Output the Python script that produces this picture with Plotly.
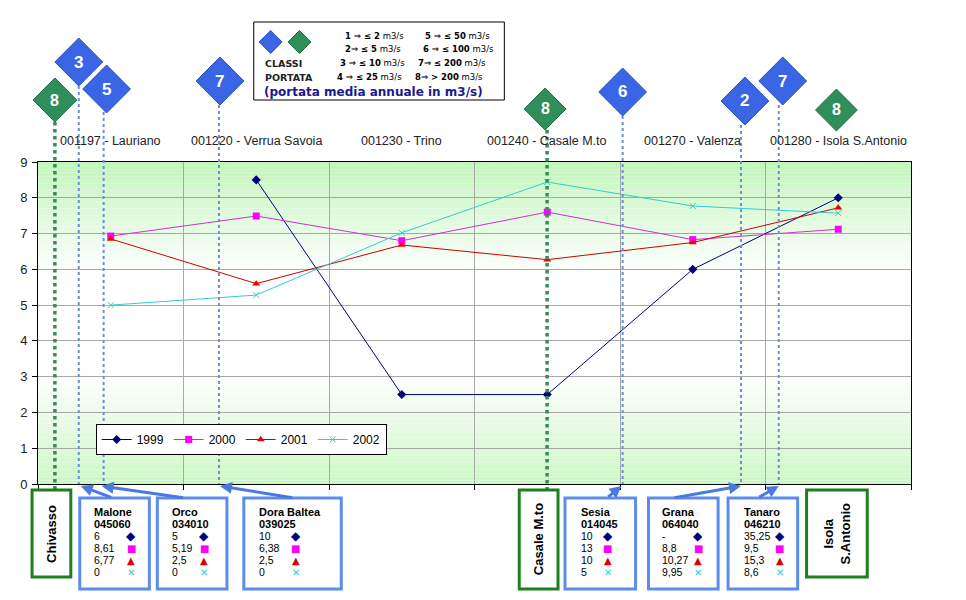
import plotly.graph_objects as go

# ---------------- data ----------------
stations = ["001197 - Lauriano", "001220 - Verrua Savoia", "001230 - Trino",
            "001240 - Casale M.to", "001270 - Valenza", "001280 - Isola S.Antonio"]
years = ["1999", "2000", "2001", "2002"]
y1999 = [None, 8.5, 2.5, 2.5, 6.0, 8.0]
y2000 = [6.93, 7.49, 6.80, 7.60, 6.83, 7.12]
y2001 = [6.85, 5.60, 6.68, 6.27, 6.75, 7.72]
y2002 = [5.00, 5.28, 7.02, 8.44, 7.77, 7.57]

# tributaries (blue boxes)
trib_names = ["Malone", "Orco", "Dora Baltea", "Sesia", "Grana", "Tanaro"]
trib_codes = ["045060", "034010", "039025", "014045", "064040", "046210"]
trib_1999 = ["6", "5", "10", "10", "-", "35,25"]
trib_2000 = ["8,61", "5,19", "6,38", "13", "8,8", "9,5"]
trib_2001 = ["6,77", "2,5", "2,5", "10", "10,27", "15,3"]
trib_2002 = ["0", "0", "0", "5", "9,95", "8,6"]

# main river nodes (green boxes)
main_names = ["Chivasso", "Casale M.to", "Isola<br>S.Antonio"]

# flow classes shown in diamonds
trib_class = [3, 5, 7, 6, 2, 7]
main_class = [8, 8, 8]

class_legend_left = ["1 ⇒ ≤ 2", "2⇒ ≤ 5", "3 ⇒ ≤ 10", "4 ⇒ ≤ 25"]
class_legend_right = ["5 ⇒ ≤ 50", "6 ⇒ ≤ 100", "7⇒ ≤ 200", "8⇒ > 200"]

# ---------------- geometry helpers (decorations only) ----------------
OFF = 8                      # browser body margin
W, H = 966 - OFF, 600 - OFF
L, R, T, B = 33, 911, 162, 484   # plot area in window pixels


def P(px, py):
    return (px - L) / (R - L), (B - py) / (B - T)


FONT = "Liberation Sans, Arial, sans-serif"
WIDE = "DejaVu Sans, Verdana, sans-serif"
BLUE = "#3a66e6"
BLUE_EDGE = "#2a4fb8"
GREEN = "#2f8f5b"
GREEN_EDGE = "#1f6a42"
BOX_BLUE = "#5b8def"
BOX_GREEN = "#1f7f1f"
ARROW = "#4a7ae0"

shapes = []
annotations = []

# gradient background of plot area
N = 90
for i in range(N):
    y0 = 9 * i / N
    y1 = 9 * (i + 1) / N
    yc = (y0 + y1) / 2
    d = abs(yc - 4.5) / 4.5
    t = max(0.0, (d - 0.3) / 0.7)
    g = (194, 246, 188) if yc > 4.5 else (204, 247, 198)
    col = tuple(round(255 + (c - 255) * t) for c in g)
    shapes.append(dict(type="rect", xref="paper", yref="y", x0=0, x1=1, y0=y0, y1=y1,
                       fillcolor="rgb(%d,%d,%d)" % col, line=dict(width=0), layer="below"))


def rect(px0, py0, px1, py1, color, width, fill=None):
    x0, y0 = P(px0, py0)
    x1, y1 = P(px1, py1)
    shapes.append(dict(type="rect", xref="paper", yref="paper", x0=x0, y0=y0, x1=x1, y1=y1,
                       line=dict(color=color, width=width),
                       fillcolor=fill if fill else "rgba(0,0,0,0)"))


def diamond(cx, cy, h, fill, edge, label=None, fsize=17):
    pts = [P(cx - h, cy), P(cx, cy - h), P(cx + h, cy), P(cx, cy + h)]
    path = "M%f,%f L%f,%f L%f,%f L%f,%f Z" % (pts[0] + pts[1] + pts[2] + pts[3])
    shapes.append(dict(type="path", xref="paper", yref="paper", path=path,
                       fillcolor=fill, line=dict(color=edge, width=1)))
    if label is not None:
        x, y = P(cx, cy)
        annotations.append(dict(xref="paper", yref="paper", x=x, y=y, text="<b>%s</b>" % label,
                                showarrow=False, font=dict(family=FONT, size=fsize, color="white"),
                                xanchor="center", yanchor="middle"))


def vline(px, py0, py1, color, width):
    x0, y0 = P(px, py0)
    _, y1 = P(px, py1)
    shapes.append(dict(type="line", xref="paper", yref="paper", x0=x0, x1=x0, y0=y0, y1=y1,
                       line=dict(color=color, width=width, dash="dot")))


def text(px, py, s, size=10, color="black", anchor="left", angle=0, bold=False, family=FONT):
    x, y = P(px, py)
    annotations.append(dict(xref="paper", yref="paper", x=x, y=y,
                            text=("<b>%s</b>" % s) if bold else s, showarrow=False,
                            font=dict(family=family, size=size, color=color),
                            xanchor=anchor, yanchor="middle", textangle=angle, align="center"))


# ---- dotted connector lines & diamonds ----
trib_line_x = [74, 99, 215, 621, 740, 778]
trib_line_top = [86, 112, 105, 116, 125, 105]
trib_diamonds = [(74, 62), (102, 89), (216, 81), (621, 92), (744, 101), (782, 81)]
for i in range(len(trib_names)):
    vline(trib_line_x[i], trib_line_top[i], B, "#6a8fd8", 2)
main_line = [(50, 122, 490), (545, 130, 490)]
for (x, a, b) in main_line:
    vline(x, a, b, "#3a8a5a", 3.5)

main_diamonds = [(50, 100, 22), (543, 109, 21), (836, 110, 21)]
for i, (cx, cy, h) in enumerate(main_diamonds):
    diamond(cx, cy, h, GREEN, GREEN_EDGE, main_class[i], 16)
for i, (cx, cy) in enumerate(trib_diamonds):
    diamond(cx, cy, 24, BLUE, BLUE_EDGE, trib_class[i], 17)

# ---- top class legend box ----
rect(250, 22, 502, 100, "black", 1, "white")
diamond(267, 42, 11.5, BLUE, BLUE_EDGE)
diamond(296, 42, 11.5, GREEN, GREEN_EDGE)
text(259, 63, "CLASSI", 9.5, "#222222", bold=True, family=WIDE)
text(259, 77, "PORTATA", 9.5, "#222222", bold=True, family=WIDE)
rows_y = [36, 49, 63, 77]
left_x = [340, 340, 335, 332]
right_x = [420, 418, 413, 410]
for i in range(4):
    text(left_x[i], rows_y[i], "<b>%s</b> m3/s" % class_legend_left[i], 8.5, "black", family=WIDE)
    text(right_x[i], rows_y[i], "<b>%s</b> m3/s" % class_legend_right[i], 8.5, "black", family=WIDE)
text(258, 92, "(portata media annuale in m3/s)", 12, "#1a1a8c", bold=True, family=WIDE)

# ---- bottom tributary boxes ----
trib_box = [(75, 145), (153, 223), (240, 338), (563, 634), (647, 717), (727, 797)]
trib_text_x = [87, 166, 253, 577, 659, 741]
trib_sym_x = [127, 200, 292, 606, 697, 779]
sym = ["◆", "■", "▲", "✕"]
sym_col = ["#000080", "#ff00ff", "#e00000", "#33cccc"]
sym_size = [12, 10, 10, 10]
val_rows = [trib_1999, trib_2000, trib_2001, trib_2002]
val_y = [536, 548, 560, 572]
for i in range(len(trib_names)):
    bx0, bx1 = trib_box[i]
    rect(bx0, 498, bx1, 589, BOX_BLUE, 3)
    text(trib_text_x[i], 512, trib_names[i], 11, "black", bold=True)
    text(trib_text_x[i], 524, trib_codes[i], 11, "black", bold=True)
    for r in range(4):
        text(trib_text_x[i], val_y[r], val_rows[r][i], 10.5, "black")
        text(trib_sym_x[i], val_y[r], sym[r], sym_size[r], sym_col[r], anchor="center",
             family=WIDE)

# arrows from boxes to the axis
arrow_tail = [(108, 498), (180, 498), (290, 498), (605, 498), (672, 498), (757, 498)]
arrow_head = [(76, 486), (97, 486), (216, 486), (620, 486), (740, 486), (778, 486)]
for (tx, ty), (hx, hy) in zip(arrow_tail, arrow_head):
    x, y = P(hx, hy)
    annotations.append(dict(xref="paper", yref="paper", x=x, y=y, ax=tx - hx, ay=ty - hy,
                            axref="pixel", ayref="pixel", text="", showarrow=True,
                            arrowhead=2, arrowsize=0.8, arrowwidth=3, arrowcolor=ARROW))

# ---- bottom main river boxes ----
main_box = [(27, 490, 66, 577), (517, 490, 556, 589), (806, 490, 867, 577)]
for i, (a, b, c, d) in enumerate(main_box):
    rect(a, b, c, d, BOX_GREEN, 3)
    text((a + c) / 2, (b + d) / 2, main_names[i], 13, "black", anchor="center", angle=-90, bold=True)

# ---- station labels above plot ----
for s in stations:
    annotations.append(dict(xref="x", yref="paper", x=s, y=P(0, 141)[1], text=s, showarrow=False,
                            font=dict(family=FONT, size=12.5, color="#222222"),
                            xanchor="center", yanchor="middle"))

# ---------------- traces ----------------
fig = go.Figure()
fig.add_trace(go.Scatter(x=stations, y=y1999, name=years[0], mode="lines+markers",
                         line=dict(color="#000080", width=1),
                         marker=dict(symbol="diamond", size=7, color="#000080")))
fig.add_trace(go.Scatter(x=stations, y=y2000, name=years[1], mode="lines+markers",
                         line=dict(color="#cc33cc", width=1),
                         marker=dict(symbol="square", size=7, color="#ff00ff")))
fig.add_trace(go.Scatter(x=stations, y=y2001, name=years[2], mode="lines+markers",
                         line=dict(color="#cc0000", width=1),
                         marker=dict(symbol="triangle-up", size=7, color="#ee0000")))
fig.add_trace(go.Scatter(x=stations, y=y2002, name=years[3], mode="lines+markers",
                         line=dict(color="#33cccc", width=1),
                         marker=dict(symbol="x-thin-open", size=6, color="#33cccc",
                                     line=dict(width=1, color="#33cccc"))))

fig.update_layout(
    width=W, height=H,
    margin=dict(l=L - OFF, r=966 - R, t=T - OFF, b=600 - B, pad=0),
    paper_bgcolor="white", plot_bgcolor="white",
    font=dict(family=FONT, size=13, color="#222222"),
    shapes=shapes, annotations=annotations,
    showlegend=True,
    legend=dict(orientation="h", x=P(91, 0)[0], y=P(0, 424)[1], xanchor="left", yanchor="top",
                bgcolor="white", bordercolor="black", borderwidth=1,
                font=dict(family=FONT, size=12, color="black"),
                itemwidth=30, tracegroupgap=0),
)
fig.update_xaxes(type="category", range=[-0.5, 5.5], tickson="boundaries", showgrid=True,
                 gridcolor="#a8a8a8", gridwidth=1, showticklabels=False, ticks="outside",
                 ticklen=5, tickcolor="black", showline=True, linecolor="black", linewidth=1,
                 mirror=True, zeroline=False, fixedrange=True)
fig.update_yaxes(range=[0, 9], dtick=1, showgrid=True, gridcolor="#a8a8a8", gridwidth=1,
                 ticks="outside", ticklen=5, tickcolor="black", showline=True, linecolor="black",
                 linewidth=1, mirror=True, zeroline=False, ticklabelstandoff=2,
                 tickfont=dict(family=FONT, size=13, color="#222222"), fixedrange=True)

fig.write_html("out.html")
